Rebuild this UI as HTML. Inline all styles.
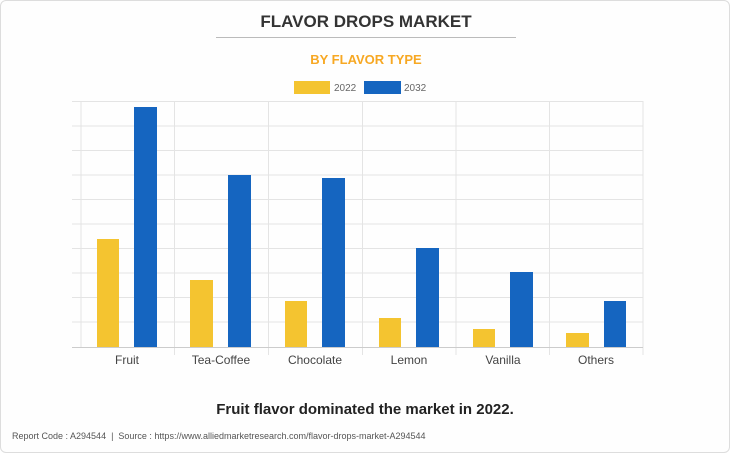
<!DOCTYPE html>
<html><head><style>
body{margin:0;background:#fff;}
.c{position:relative;width:728px;height:451px;border:1px solid #ddd;border-radius:6px;background:#fefefe;font-family:"Liberation Sans",Arial,sans-serif;overflow:hidden}
.t{position:absolute;top:11px;left:0;width:730px;text-align:center;font-weight:bold;font-size:17px;color:#333}
.s{position:absolute;top:51px;left:0;width:730px;text-align:center;font-weight:bold;font-size:13px;color:#f7a823}
</style></head><body><div class="c">
<div class="t">FLAVOR DROPS MARKET</div>
<div style="position:absolute;left:215px;top:36px;width:300px;height:1px;background:#bbb"></div>
<div class="s">BY FLAVOR TYPE</div>
<svg style="position:absolute;left:-1px;top:-1px" width="730" height="453" font-family="Liberation Sans, Arial, sans-serif">
<rect x="294" y="81" width="36" height="13" fill="#f4c430"/>
<text x="334" y="91" font-size="10" fill="#666">2022</text>
<rect x="364" y="81" width="37" height="13" fill="#1565c0"/>
<text x="404" y="91" font-size="10" fill="#666">2032</text>
<g stroke="#e4e4e4" stroke-width="1">
<line x1="72" x2="643" y1="101.5" y2="101.5"/><line x1="72" x2="643" y1="126" y2="126"/><line x1="72" x2="643" y1="150.5" y2="150.5"/><line x1="72" x2="643" y1="175" y2="175"/><line x1="72" x2="643" y1="199.5" y2="199.5"/><line x1="72" x2="643" y1="224" y2="224"/><line x1="72" x2="643" y1="248.5" y2="248.5"/><line x1="72" x2="643" y1="273" y2="273"/><line x1="72" x2="643" y1="297.5" y2="297.5"/><line x1="72" x2="643" y1="322" y2="322"/>
<line x1="81" x2="81" y1="101" y2="347"/><line x1="174.5" x2="174.5" y1="101" y2="355"/><line x1="268.5" x2="268.5" y1="101" y2="355"/><line x1="362.5" x2="362.5" y1="101" y2="355"/><line x1="456" x2="456" y1="101" y2="355"/><line x1="549.5" x2="549.5" y1="101" y2="355"/><line x1="643" x2="643" y1="101" y2="355"/>
</g>
<line x1="72" x2="643" y1="347.5" y2="347.5" stroke="#ccc"/>
<g fill="#f4c430">
<rect x="97" y="239" width="22" height="108"/><rect x="190" y="280" width="23" height="67"/><rect x="285" y="301" width="22" height="46"/><rect x="379" y="318" width="22" height="29"/><rect x="473" y="329" width="22" height="18"/><rect x="566" y="333" width="23" height="14"/>
</g>
<g fill="#1565c0">
<rect x="134" y="107" width="23" height="240"/><rect x="228" y="175" width="23" height="172"/><rect x="322" y="178" width="23" height="169"/><rect x="416" y="248" width="23" height="99"/><rect x="510" y="272" width="23" height="75"/><rect x="604" y="301" width="22" height="46"/>
</g>
<g font-size="12" fill="#444" text-anchor="middle">
<text x="127" y="364">Fruit</text><text x="221" y="364">Tea-Coffee</text><text x="315" y="364">Chocolate</text><text x="409" y="364">Lemon</text><text x="503" y="364">Vanilla</text><text x="596" y="364">Others</text>
</g>
<text x="365" y="414" font-size="15" font-weight="bold" fill="#222" text-anchor="middle">Fruit flavor dominated the market in 2022.</text>
<text x="12" y="439" font-size="9" fill="#555">Report Code : A294544&#160; |&#160; Source : https://www.alliedmarketresearch.com/flavor-drops-market-A294544</text>
</svg>
</div></body></html>
